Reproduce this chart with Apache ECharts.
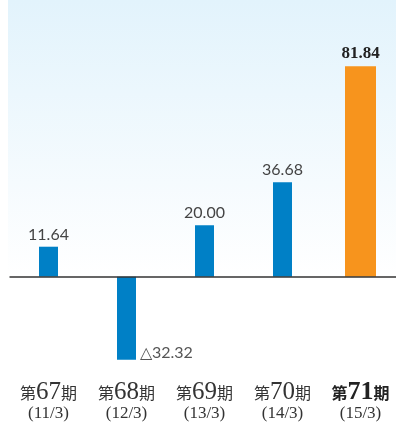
<!DOCTYPE html>
<html>
<head>
<meta charset="utf-8">
<script src="https://cdn.jsdelivr.net/npm/echarts@6/dist/echarts.min.js"></script>
<style>
html, body { margin: 0; padding: 0; background: #fff; }
#chart { width: 396px; height: 425px; }
</style>
</head>
<body>
<div id="chart"></div>
<script>
// 期・年月・当期純利益
var periods = ['67', '68', '69', '70', '71'];
var dates = ['11/3', '12/3', '13/3', '14/3', '15/3'];
var values = [11.64, -32.32, 20.00, 36.68, 81.84];
var lastIdx = values.length - 1;

var blue = '#0080c6';
var orange = '#f7941d';

var categories = periods.map(function(p, i) { return i; });

function fmt(v) {
	return v < 0 ? '△' + Math.abs(v).toFixed(2) : v.toFixed(2);
}

var blueData = values.map(function(v, i) {
	if (i === lastIdx) return '-';
	if (v < 0) {
		return {
			value: v,
			label: { position: 'right', distance: 4, offset: [0, 35], color: '#555' }
		};
	}
	return v;
});
var orangeData = values.map(function(v, i) { return i === lastIdx ? v : '-'; });

var mychart = echarts.init(document.getElementById('chart'));
var xLabel = {
	interval: 0,
	margin: 2,
	formatter: function(val) {
		var i = +val;
		if (i === lastIdx) {
			return '{ab|第}{bb|' + periods[i] + '}{ab|期}\n{c|(' + dates[i] + ')}';
		}
		return '{a|第}{b|' + periods[i] + '}{a|期}\n{c|(' + dates[i] + ')}';
	},
	rich: {
		a: { fontFamily: 'Noto Sans CJK JP', fontSize: 16, color: '#333', lineHeight: 22 },
		b: { fontFamily: 'Liberation Serif', fontSize: 25, color: '#333', lineHeight: 22 },
		ab: { fontFamily: 'Noto Sans CJK JP', fontSize: 16, fontWeight: 'bold', color: '#222', lineHeight: 22 },
		bb: { fontFamily: 'Liberation Serif', fontSize: 26, fontWeight: 'bold', color: '#222', lineHeight: 22 },
		c: { fontFamily: 'Liberation Serif', fontSize: 17, color: '#333', lineHeight: 20 }
	}
};

mychart.setOption({
	animation: false,
	graphic: [{
		type: 'rect',
		left: 8, top: 0,
		shape: { width: 388, height: 276 },
		z: -10,
		style: {
			fill: new echarts.graphic.LinearGradient(0, 0, 0, 1, [
				{ offset: 0, color: '#e2f3fc' },
				{ offset: 1, color: '#ffffff' }
			])
		}
	}],
	grid: { left: 9.5, top: 19.5, width: 390, height: 360, outerBoundsMode: 'none' },
	xAxis: [{
		type: 'category',
		data: categories,
		axisLine: { show: false, onZero: false },
		axisTick: { show: false },
		axisLabel: xLabel
	}, {
		type: 'category',
		data: categories,
		show: false
	}],
	yAxis: { type: 'value', min: -40, max: 100, show: false, splitLine: { show: false } },
	series: [{
		type: 'bar',
		xAxisIndex: 0,
		barWidth: 19,
		itemStyle: { color: blue },
		label: {
			show: true,
			position: 'top',
			distance: 4,
			fontFamily: 'Lato',
			fontSize: 16,
			color: '#444',
			formatter: function(p) { return fmt(p.value); }
		},
		markLine: {
			silent: true,
			symbol: 'none',
			label: { show: false },
			lineStyle: { color: '#333', width: 1.5, type: 'solid' },
			data: [{ yAxis: 0 }]
		},
		data: blueData
	}, {
		type: 'bar',
		xAxisIndex: 1,
		barWidth: 31,
		itemStyle: { color: orange },
		label: {
			show: true,
			position: 'top',
			distance: 4,
			fontFamily: 'Liberation Serif',
			fontWeight: 'bold',
			fontSize: 17,
			color: '#222',
			formatter: function(p) { return fmt(p.value); }
		},
		data: orangeData
	}]
});
</script>
</body>
</html>
